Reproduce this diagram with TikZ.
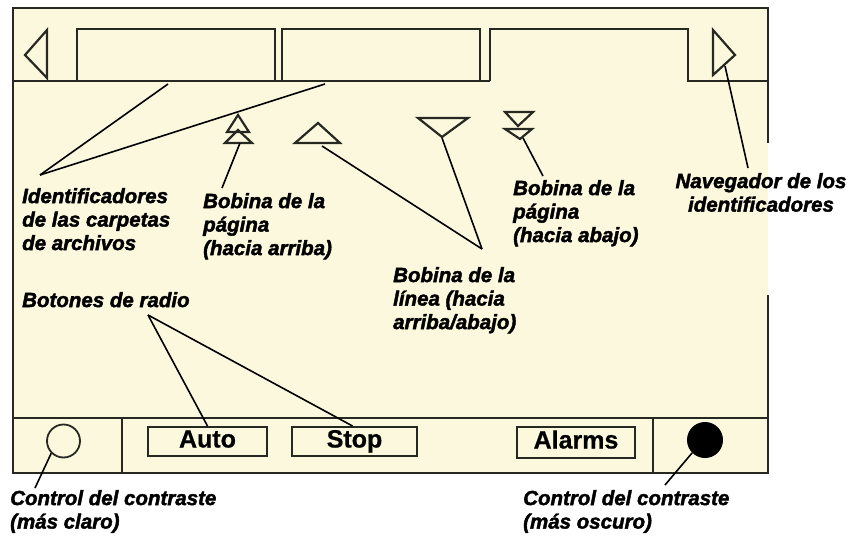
\documentclass[tikz,border=0pt]{standalone}
\usepackage{fontspec}
\setmainfont{Liberation Sans}[BoldItalicFeatures={FakeBold=2}, BoldFeatures={FakeBold=0.6}]
\usetikzlibrary{positioning}

\definecolor{crema}{RGB}{252,248,222}
\definecolor{marco}{RGB}{40,40,35}

\tikzset{
  etiqueta/.style={font=\fontsize{20.5}{23.5}\selectfont\bfseries\itshape, align=left, inner sep=0pt, anchor=north west},
  trazo/.style={draw=marco, line width=2.2pt},
  guia/.style={draw=black, line width=1.6pt},
  boton/.style={draw=marco, line width=2pt, inner sep=0pt, font=\fontsize{25}{28}\selectfont\bfseries, text height=18pt, text depth=6pt}
}

\begin{document}
\begin{tikzpicture}[x=1pt, y=-1pt]
    \useasboundingbox (0,0) rectangle (858,537);

    % Fondo de la pantalla
    \fill[crema] (13,8) rectangle (768,473);
    \draw[trazo, line width=2.4pt] (768,143) -- (768,8) -- (13,8) -- (13,473) -- (768,473) -- (768,295);

    % Barra de pestañas
    \draw[trazo] (13,81) -- (490,81);
    \draw[trazo] (77,81) -- (77,29) -- (275,29) -- (275,81);
    \draw[trazo] (282,81) -- (282,29) -- (480,29) -- (480,81);
    \draw[trazo] (490,81) -- (490,29) -- (688,29) -- (688,81) -- (768,81);

    % Flechas del navegador
    \draw[trazo] (47,30) -- (25,55) -- (47,78) -- cycle;
    \draw[trazo] (713,30) -- (735,55) -- (713,75) -- cycle;

    % Bobinas
    \draw[trazo] (238,115) -- (249,132) -- (227,132) -- cycle;
    \draw[trazo] (238,130) -- (252,143) -- (225,143) -- cycle;
    \draw[trazo] (318,123) -- (340,143) -- (295,143) -- cycle;
    \draw[trazo] (418,118) -- (468,118) -- (442,137) -- cycle;
    \draw[trazo] (505,112) -- (533,112) -- (518,126) -- cycle;
    \draw[trazo] (505,129) -- (532,129) -- (520,139) -- cycle;

    % Barra inferior
    \draw[trazo] (13,418) -- (768,418);
    \draw[trazo] (122,418) -- (122,473);
    \draw[trazo] (653,418) -- (653,473);

    % Contraste
    \node[circle, draw=marco, line width=1.8pt, minimum size=33pt, inner sep=0pt] (claro) at (63.5,441) {};
    \node[circle, fill=black, minimum size=36pt, inner sep=0pt] (oscuro) at (705,440) {};

    % Botones
    \node[boton, minimum width=119pt, minimum height=29pt] (auto) at (207.5,441.5) {Auto};
    \node[boton, minimum width=125pt, minimum height=29pt] (stop) at (354.5,441.5) {Stop};
    \node[boton, minimum width=118pt, minimum height=31pt] (alarms) at (576,442.5) {Alarms};

    % Etiquetas
    \node[etiqueta] (ident) at (22,188) {Identificadores\\de las carpetas\\de archivos};
    \node[etiqueta] (pagarriba) at (203,193) {Bobina de la\\página\\(hacia arriba)};
    \node[etiqueta] (linea) at (393,267) {Bobina de la\\línea (hacia\\arriba/abajo)};
    \node[etiqueta] (pagabajo) at (513,180) {Bobina de la\\página\\(hacia abajo)};
    \node[etiqueta, align=center, anchor=north] (naveg) at (761,173) {Navegador de los\\identificadores};
    \node[etiqueta] (radio) at (22,292) {Botones de radio};
    \node[etiqueta] (txtclaro) at (10,490) {Control del contraste\\(más claro)};
    \node[etiqueta] (txtoscuro) at (523,490) {Control del contraste\\(más oscuro)};

    % Puntos de las guías
    \coordinate (identP) at (40,175);
    \coordinate (pest1) at (168,84);
    \coordinate (pest2) at (325,84);
    \coordinate (arribaP) at (222,188);
    \coordinate (arribaQ) at (240,143);
    \coordinate (lineaP) at (482,249);
    \coordinate (lineaQ) at (322,146);
    \coordinate (lineaR) at (442,138);
    \coordinate (abajoP) at (543,176);
    \coordinate (abajoQ) at (523,138);
    \coordinate (navP) at (748,168);
    \coordinate (navQ) at (725,66);
    \coordinate (radioP) at (148,315);
    \coordinate (claroP) at (35,488);
    \coordinate (oscuroP) at (665,485);

    % Guías
    \draw[guia] (identP) -- (pest1);
    \draw[guia] (identP) -- (pest2);
    \draw[guia] (arribaP) -- (arribaQ);
    \draw[guia] (lineaP) -- (lineaQ);
    \draw[guia] (lineaP) -- (lineaR);
    \draw[guia] (abajoP) -- (abajoQ);
    \draw[guia] (navP) -- (navQ);
    \draw[guia] (radioP) -- (auto.north);
    \draw[guia] (radioP) -- ([xshift=-2pt]stop.north);
    \draw[guia] (claroP) -- (claro.south west);
    \draw[guia] (oscuroP) -- (oscuro.south west);

\end{tikzpicture}
\end{document}
